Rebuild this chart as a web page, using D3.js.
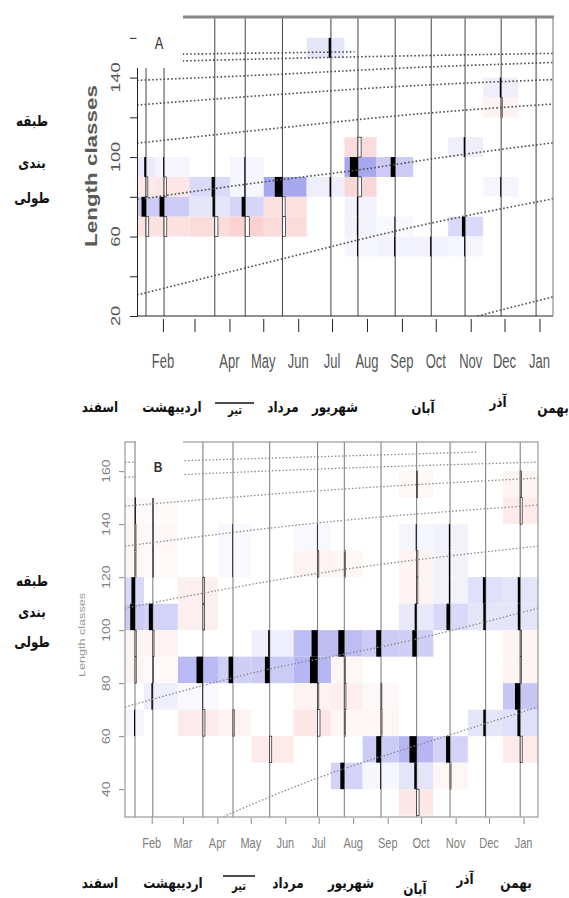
<!DOCTYPE html>
<html>
<head>
<meta charset="utf-8">
<script src="https://cdn.jsdelivr.net/npm/d3@7"></script>
<style>
  body { margin: 0; background: #fff; }
  svg { display: block; }
</style>
</head>
<body>
<script>
const parse = d3.timeParse("%Y-%m-%d");

// sampling dates (same survey in both panels)
const sampleDates = ["2011-01-17","2011-02-02","2011-03-19","2011-04-15","2011-05-18","2011-06-30",
                     "2011-07-24","2011-08-26","2011-09-27","2011-10-27","2011-11-28","2011-12-29"];

const monthTicks = ["2011-02-01","2011-03-01","2011-04-01","2011-05-01","2011-06-01","2011-07-01",
                    "2011-08-01","2011-09-01","2011-10-01","2011-11-01","2011-12-01","2012-01-01"];
const monthNamesA = ["Feb","","Apr","May","Jun","Jul","Aug","Sep","Oct","Nov","Dec","Jan"];
const monthNamesB = ["Feb","Mar","Apr","May","Jun","Jul","Aug","Sep","Oct","Nov","Dec","Jan"];

const yTicksA = [20,40,60,80,100,120,140,160];
const yLabelsA = [20,60,100,140];
const yTicksB = [40,60,80,100,120,140,160];
const classWidth = 10;

// restructured scores per sample: [class lower bound, score]
const scoresA = [
  [[90,0.2],[80,-0.2],[70,0.5],[60,-0.3]],
  [[90,0.1],[80,-0.25],[70,0.5],[60,-0.3]],
  [[80,0.35],[70,0.25],[60,-0.35]],
  [[90,0.1],[80,0.1],[70,0.4],[60,-0.45]],
  [[80,0.85],[70,-0.3],[60,-0.35]],
  [[150,0.25],[80,0.15]],
  [[100,-0.35],[90,0.9],[80,-0.4],[70,0.12],[60,0.12],[50,0.1]],
  [[90,0.5],[60,0.08],[50,0.12]],
  [[50,0.12]],
  [[100,0.15],[60,0.35],[50,0.1]],
  [[130,0.15],[120,-0.12],[80,0.1]],
  []
];
const scoresB = [
  [[140,-0.08],[130,-0.12],[120,-0.12],[110,0.45],[100,0.6],[90,-0.15],[80,-0.15],[60,0.12]],
  [[140,-0.06],[130,-0.1],[120,-0.08],[100,0.5],[90,-0.15],[80,-0.08],[70,0.18]],
  [[110,-0.2],[100,-0.2],[80,0.8],[70,0.08],[60,-0.25]],
  [[130,0.08],[120,0.08],[80,0.55],[60,-0.15]],
  [[90,0.2],[80,0.6],[50,-0.25]],
  [[130,0.08],[120,-0.15],[90,0.75],[80,0.95],[70,-0.15],[60,-0.3]],
  [[120,-0.12],[90,0.75],[80,-0.12],[70,-0.2],[60,-0.12],[40,0.5]],
  [[90,0.6],[70,-0.1],[60,-0.12],[50,0.6],[40,0.1]],
  [[150,-0.12],[130,0.12],[120,-0.15],[110,-0.15],[100,0.25],[90,0.55],[50,0.9],[40,0.3],[30,-0.3]],
  [[130,0.15],[120,0.15],[110,0.15],[100,0.45],[50,0.5],[40,-0.12]],
  [[110,0.35],[100,0.3],[60,0.3]],
  [[150,-0.15],[140,-0.25],[110,0.3],[100,0.3],[90,-0.15],[80,-0.15],[70,0.65],[60,0.35],[50,-0.25]]
];

// growth curves: [date, length]
const curvesA = [
  [["2011-01-09",151.5],["2011-07-21",153]],
  [["2011-01-09",147.8],["2011-07-10",150.3],["2012-01-13",152.2]],
  [["2011-01-09",138.6],["2011-05-16",141.7],["2011-09-01",144.8],["2012-01-13",147.6]],
  [["2011-01-09",126.2],["2011-05-16",131.6],["2011-09-01",135.6],["2012-01-13",139]],
  [["2011-01-09",107],["2011-05-16",114.7],["2011-09-01",121],["2012-01-13",126.7]],
  [["2011-01-09",78.6],["2011-05-04",87.7],["2011-07-24",93.5],["2011-10-15",100.5],["2012-01-13",107.2]],
  [["2011-01-09",30.6],["2011-05-16",48.5],["2011-09-01",63.5],["2012-01-13",79]],
  [["2011-10-25",18],["2011-12-15",25.5],["2012-01-13",29.6]]
];
const curvesB = [
  [["2011-01-08",163.3],["2011-11-20",167.2]],
  [["2011-01-08",157.7],["2011-07-01",160.8],["2012-01-14",163.4]],
  [["2011-01-08",146.8],["2011-07-01",152.6],["2012-01-14",157.4]],
  [["2011-01-08",131.7],["2011-07-01",140.5],["2012-01-14",147.2]],
  [["2011-01-08",108.3],["2011-07-01",121.5],["2012-01-14",131.7]],
  [["2011-01-08",71],["2011-05-04",84],["2011-09-20",96],["2012-01-14",108.3]],
  [["2011-03-20",26.5],["2011-07-02",44.5],["2011-10-12",58.5],["2012-01-14",71]]
];

const persianMonths = ["اسفند","اردیبهشت","تیر","مرداد","شهریور","آبان","آذر","بهمن"];
const sideLabel = ["طبقه","بندی","طولی"];

// layout
const W = 569, H = 898;
const PA = {
  id: "A", left: 137, right: 553, top: 18, bottom: 316,
  dates: ["2011-01-09","2012-01-13"], lens: [20,170],
  barW: 9, lineColor: "#444", curveColor: "#4d4d4d", curveW: 1.6, dash: "1.6,2.2",
  blueMax: 0.5, redMax: 0.35, shade: 0.6,
  patch: [136.5, 0, 183, 68],
  yTicks: yTicksA, yLabels: yLabelsA, months: monthNamesA,
  tickLabelX: 115, tickSize: 7, tickColor: "#222", labelColor: "#555", yLabelSize: 13,
  xTickY: 319, xTickLen: 13, monthY: 362, monthSize: 13, monthSy: 1.5,
  titleX: 91, titleY: 166, titleSize: 16, titleColor: "#5a5a5a", titleWeight: "bold",
  letter: "A", letterX: 159, letterY: 43, letterSize: 13,
  persX: [100, 172, 235, 283, 335, 423, 498, 553],
  persY: [406, 406, 410, 406, 406, 407, 401, 407],
  overline: [215, 254, 403],
  sideY: [120, 162, 197]
};
const PB = {
  id: "B", left: 125, right: 538, top: 442, bottom: 817,
  dates: ["2011-01-08","2012-01-14"], lens: [29.5,171],
  barW: 8, lineColor: "#777", curveColor: "#8a8a8a", curveW: 1.3, dash: "1.5,2",
  blueMax: 0.42, redMax: 0.25, shade: 0.5,
  patch: [136, 440, 183, 498],
  yTicks: yTicksB, yLabels: yTicksB, months: monthNamesB,
  tickLabelX: 107, tickSize: 5, tickColor: "#888", labelColor: "#808080", yLabelSize: 10,
  xTickY: 818, xTickLen: 6, monthY: 843, monthSize: 11, monthSy: 1.4,
  titleX: 82, titleY: 635, titleSize: 9, titleColor: "#999", titleWeight: "normal",
  letter: "B", letterX: 158, letterY: 467, letterSize: 12,
  persX: [100, 173, 239, 288, 351, 415, 465, 516],
  persY: [882, 882, 886, 882, 882, 888, 878, 882],
  overline: [223, 255, 876],
  sideY: [580, 611, 641]
};

const svg = d3.select("body").append("svg").attr("width", W).attr("height", H);
svg.append("rect").attr("width", W).attr("height", H).attr("fill", "#fff");

function stext(sel, x, y, str, o) {
  return sel.append("text")
    .attr("transform", `translate(${x},${y}) scale(1,${o.sy || 1})` + (o.rot ? " rotate(-90)" : ""))
    .attr("text-anchor", "middle")
    .attr("dominant-baseline", "central")
    .attr("font-family", o.font || "'Liberation Sans', Arial, sans-serif")
    .attr("font-size", o.size)
    .attr("font-weight", o.weight || "normal")
    .attr("fill", o.fill || "#000")
    .text(str);
}

function drawPanel(P, scores, curves) {
  const x = d3.scaleTime().domain(P.dates.map(parse)).range([P.left, P.right]);
  const y = d3.scaleLinear().domain(P.lens).range([P.bottom, P.top]);
  const g = svg.append("g");

  const clipId = "clip" + P.id;
  svg.append("clipPath").attr("id", clipId).append("rect")
    .attr("x", P.left).attr("y", P.top)
    .attr("width", P.right - P.left).attr("height", P.bottom - P.top);

  const sx = sampleDates.map(d => x(parse(d)));
  const edges = sx.map((v, i) => [
    i === 0 ? P.left : (sx[i - 1] + v) / 2,
    i === sx.length - 1 ? P.right : (v + sx[i + 1]) / 2
  ]);

  const cells = [];
  scores.forEach((s, i) => s.forEach(([lo, v]) => cells.push({ i, lo, v })));

  const blue = d3.interpolateRgb("#ffffff", "#5050e0");
  const red = d3.interpolateRgb("#ffffff", "#ec5a5a");

  // background score image
  g.append("g").attr("clip-path", `url(#${clipId})`)
    .selectAll("rect").data(cells).join("rect")
    .attr("x", c => edges[c.i][0])
    .attr("width", c => edges[c.i][1] - edges[c.i][0])
    .attr("y", c => y(c.lo + classWidth))
    .attr("height", c => y(c.lo) - y(c.lo + classWidth))
    .attr("fill", c => c.v > 0
      ? blue(Math.min(P.blueMax, c.v * P.shade))
      : red(Math.min(P.redMax, -c.v * P.shade)));

  // sample lines
  g.append("g").selectAll("line").data(sx).join("line")
    .attr("x1", d => d).attr("x2", d => d)
    .attr("y1", P.top).attr("y2", P.bottom)
    .attr("stroke", P.lineColor).attr("stroke-width", 1);

  // histogram bars
  g.append("g").selectAll("rect").data(cells.filter(c => c.v !== 0)).join("rect")
    .attr("x", c => c.v > 0 ? sx[c.i] - c.v * P.barW : sx[c.i])
    .attr("width", c => Math.abs(c.v) * P.barW)
    .attr("y", c => y(c.lo + classWidth))
    .attr("height", c => y(c.lo) - y(c.lo + classWidth))
    .attr("fill", c => c.v > 0 ? "#000" : "#fff")
    .attr("stroke", c => c.v > 0 ? "none" : "#222")
    .attr("stroke-width", 0.7);

  // growth curves
  const line = d3.line().x(d => x(parse(d[0]))).y(d => y(d[1])).curve(d3.curveMonotoneX);
  g.append("g").attr("clip-path", `url(#${clipId})`)
    .selectAll("path").data(curves).join("path")
    .attr("d", line)
    .attr("fill", "none")
    .attr("stroke", P.curveColor)
    .attr("stroke-width", P.curveW)
    .attr("stroke-dasharray", P.dash);

  // frame
  const fr = g.append("g").attr("fill", "none");
  if (P.id === "A") {
    fr.append("line").attr("x1", P.left).attr("x2", P.right).attr("y1", P.bottom).attr("y2", P.bottom).attr("stroke", "#222");
    fr.append("line").attr("x1", P.right).attr("x2", P.right).attr("y1", P.top).attr("y2", P.bottom).attr("stroke", "#777");
    fr.append("line").attr("x1", P.left).attr("x2", P.right + 1).attr("y1", P.top - 1).attr("y2", P.top - 1).attr("stroke", "#888").attr("stroke-width", 3);
  } else {
    fr.append("rect").attr("x", P.left).attr("y", P.top).attr("width", P.right - P.left).attr("height", P.bottom - P.top)
      .attr("stroke", "#999").attr("stroke-width", 1.2);
  }

  // y axis
  const ya = g.append("g").attr("transform", `translate(${P.id === "A" ? P.left : P.left - 1},0)`)
    .call(d3.axisLeft(y).tickValues(P.yTicks).tickSize(P.tickSize).tickSizeOuter(0).tickFormat(""));
  ya.selectAll("line").attr("stroke", P.tickColor);
  if (P.id === "A") ya.select(".domain").attr("stroke", "#222");
  else ya.select(".domain").remove();

  // x axis ticks
  const xa = g.append("g").attr("transform", `translate(0,${P.xTickY})`)
    .call(d3.axisBottom(x).tickValues(monthTicks.map(parse)).tickSize(P.xTickLen).tickSizeOuter(0).tickFormat(""));
  xa.select(".domain").remove();
  xa.selectAll("line").attr("stroke", P.tickColor);

  // patch over the top-left corner of the figure
  g.append("rect")
    .attr("x", P.patch[0]).attr("y", P.patch[1])
    .attr("width", P.patch[2] - P.patch[0]).attr("height", P.patch[3] - P.patch[1])
    .attr("fill", "#fff");

  // labels
  P.yLabels.forEach(v => stext(g, P.tickLabelX, y(v), String(v), { size: P.yLabelSize, sy: 1.4, rot: true, fill: P.labelColor }));
  monthTicks.forEach((d, i) => {
    if (P.months[i]) stext(g, x(parse(d)), P.monthY, P.months[i], { size: P.monthSize, sy: P.monthSy, fill: P.labelColor });
  });
  stext(g, P.titleX, P.titleY, "Length classes", { size: P.titleSize, sy: 1.4, rot: true, fill: P.titleColor, weight: P.titleWeight });
  stext(g, P.letterX, P.letterY, P.letter, { size: P.letterSize, sy: 1.25, fill: "#333", weight: P.id === "B" ? "bold" : "normal" });

  // Persian month row
  const pf = "'DejaVu Sans', sans-serif";
  persianMonths.forEach((m, i) => {
    stext(g, P.persX[i], P.persY[i], m, { size: m === "تیر" ? 10 : 12, sy: 1.25, fill: "#111", weight: "bold", font: pf });
  });
  g.append("line")
    .attr("x1", P.overline[0]).attr("x2", P.overline[1])
    .attr("y1", P.overline[2]).attr("y2", P.overline[2])
    .attr("stroke", "#111").attr("stroke-width", 1.5);

  // side label
  sideLabel.forEach((t, i) => stext(g, 32, P.sideY[i], t, { size: 12, sy: 1.25, fill: "#111", weight: "bold", font: pf }));
}

drawPanel(PA, scoresA, curvesA);
drawPanel(PB, scoresB, curvesB);
</script>
</body>
</html>
